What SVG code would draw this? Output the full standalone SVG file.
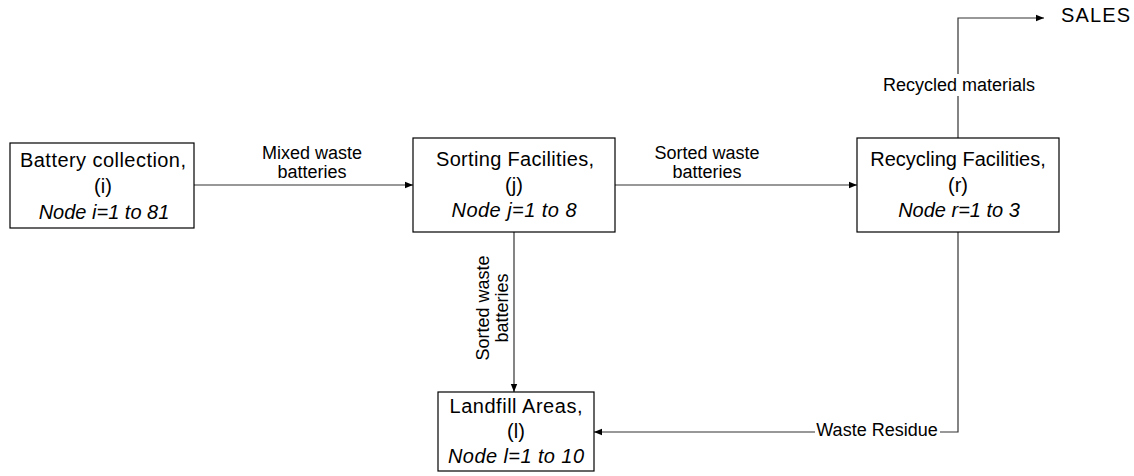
<svg xmlns="http://www.w3.org/2000/svg" width="1134" height="476" viewBox="0 0 1134 476">
<style>
  .box { fill: #fff; stroke: #000; stroke-width: 1.2; }
  .t { font-family: "Liberation Sans", Arial, sans-serif; font-size: 20px; fill: #000; text-anchor: middle; }
  .it { font-style: italic; }
  .lbl { font-family: "Liberation Sans", Arial, sans-serif; font-size: 18px; fill: #000; text-anchor: middle; }
  .ln { fill: none; stroke: #333; stroke-width: 1.2; }
  .bg { fill: #fff; stroke: none; }
</style>
<defs>
  <marker id="ah" viewBox="0 0 10 10" refX="10" refY="5" markerWidth="8" markerHeight="8" markerUnits="userSpaceOnUse" orient="auto">
    <path d="M0,1 L10,5 L0,9 Z" fill="#000"/>
  </marker>
</defs>
<rect width="1134" height="476" fill="#fff"/>

<g id="connectors">
  <line class="ln" x1="194" y1="185" x2="413" y2="185" marker-end="url(#ah)"/>
  <line class="ln" x1="615" y1="185" x2="857" y2="185" marker-end="url(#ah)"/>
  <line class="ln" x1="514" y1="232" x2="514" y2="392" marker-end="url(#ah)"/>
  <polyline class="ln" points="958,138 958,18 1044,18" marker-end="url(#ah)"/>
  <polyline class="ln" points="958,232 958,432 594,432" marker-end="url(#ah)"/>
  <text class="lbl" x="312" y="159">Mixed waste</text>
  <text class="lbl" x="312" y="178">batteries</text>
  <text class="lbl" x="707" y="159">Sorted waste</text>
  <text class="lbl" x="707" y="178">batteries</text>
  <rect class="bg" x="878" y="74" width="160" height="22"/>
  <text class="lbl" x="959" y="91">Recycled materials</text>
  <rect class="bg" x="815" y="420" width="125" height="22"/>
  <text class="lbl" x="877" y="436">Waste Residue</text>
  <text class="lbl" transform="translate(489,308) rotate(-90)" x="0" y="0">Sorted waste</text>
  <text class="lbl" transform="translate(508,308) rotate(-90)" x="0" y="0">batteries</text>
  <text class="lbl" x="1061" y="22" style="text-anchor:start;font-size:20px" textLength="69" lengthAdjust="spacing">SALES</text>
</g>

<g id="node-collection">
  <rect class="box" x="10" y="143" width="184" height="85"/>
  <text class="t" x="103" y="167" textLength="166" lengthAdjust="spacing">Battery collection,</text>
  <text class="t" x="103" y="193">(i)</text>
  <text class="t it" x="104" y="219">Node i=1 to 81</text>
</g>

<g id="node-sorting">
  <rect class="box" x="413" y="138" width="202" height="94"/>
  <text class="t" x="515" y="166" textLength="158" lengthAdjust="spacing">Sorting Facilities,</text>
  <text class="t" x="514" y="192">(j)</text>
  <text class="t it" x="514" y="217" textLength="125" lengthAdjust="spacing">Node j=1 to 8</text>
</g>

<g id="node-recycling">
  <rect class="box" x="857" y="138" width="202" height="94"/>
  <text class="t" x="958" y="166">Recycling Facilities,</text>
  <text class="t" x="958" y="192">(r)</text>
  <text class="t it" x="959" y="217">Node r=1 to 3</text>
</g>

<g id="node-landfill">
  <rect class="box" x="438" y="392" width="156" height="79"/>
  <text class="t" x="516" y="413" textLength="133" lengthAdjust="spacing">Landfill Areas,</text>
  <text class="t" x="516" y="438">(l)</text>
  <text class="t it" x="516" y="463" textLength="136" lengthAdjust="spacing">Node l=1 to 10</text>
</g>
</svg>
